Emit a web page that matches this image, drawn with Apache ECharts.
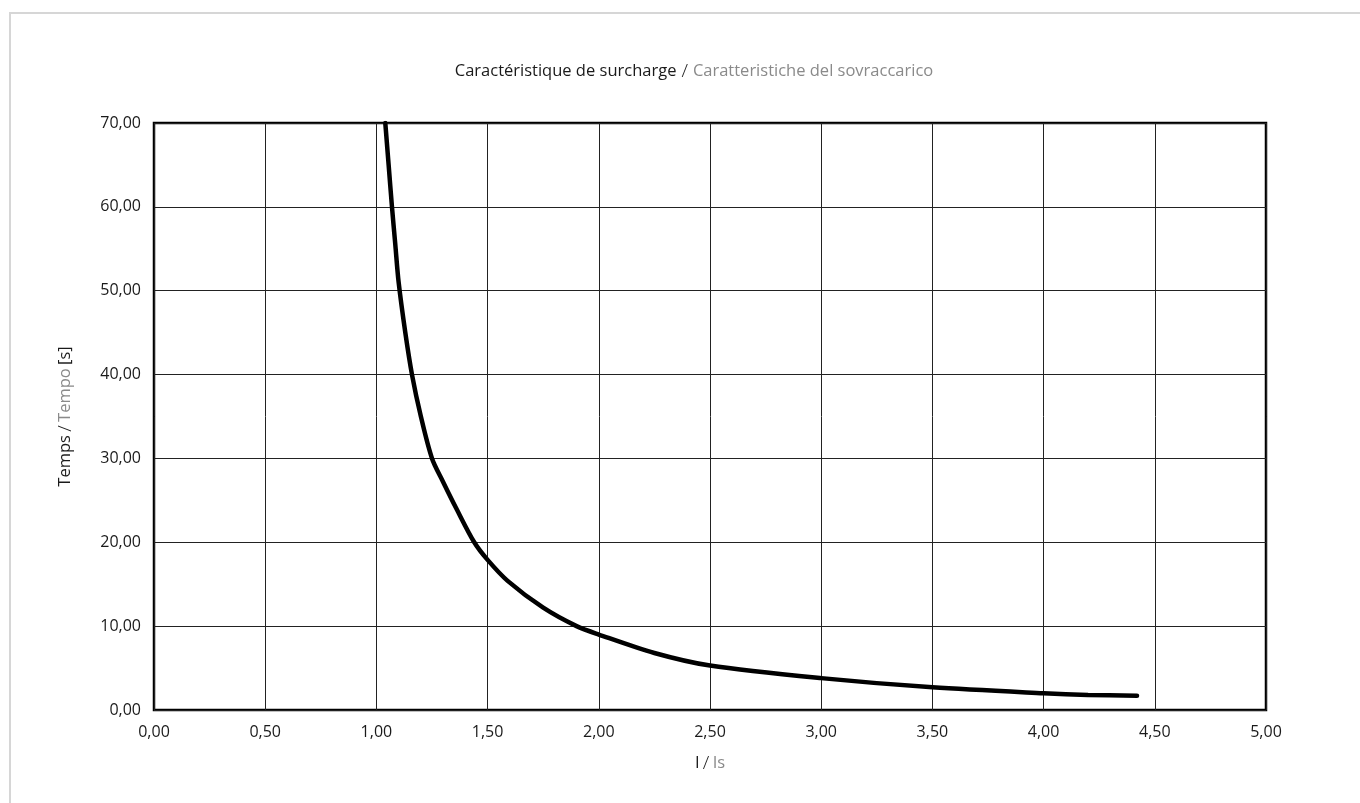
<!DOCTYPE html>
<html>
<head>
<meta charset="utf-8">
<script src="https://cdn.jsdelivr.net/npm/echarts@6/dist/echarts.min.js"></script>
<style>
html,body{margin:0;padding:0;background:#fff;}
#frame{position:absolute;left:9px;top:12px;right:0;bottom:0;border-left:2px solid #d6d6d6;border-top:2px solid #d6d6d6;}
#chart{position:absolute;left:0;top:0;width:1360px;height:803px;}
</style>
</head>
<body>
<div id="frame"></div>
<div id="chart"></div>
<script>
// Current ratio I/Is
const ratioI = [1.04, 1.055, 1.07, 1.085, 1.10, 1.13, 1.16, 1.20, 1.25, 1.30, 1.36, 1.44, 1.50, 1.59, 1.75, 1.90, 2.00, 2.25, 2.50, 3.00, 3.50, 4.00, 4.20, 4.42];
// Trip time [s]
const timeS  = [70.0, 65.0, 60.0, 55.5, 51.0, 45.0, 40.0, 35.0, 30.0, 27.2, 24.0, 20.0, 17.9, 15.4, 12.2, 10.0, 9.0, 6.8, 5.3, 3.8, 2.7, 2.0, 1.8, 1.7];

const xMin = 0, xMax = 5, xStep = 0.5;
const yMin = 0, yMax = 70, yStep = 10;

const fmt = v => v.toFixed(2).replace('.', ',');
const FONT = '"Open Sans", "Noto Sans", sans-serif';
const richStyle = {
  a: {fontFamily: FONT, fontSize: 16.5, fontWeight: 'normal', color: '#1a1a1a'},
  s: {fontFamily: FONT, fontSize: 19, fontWeight: 300, color: '#1a1a1a'},
  b: {fontFamily: FONT, fontSize: 16.5, fontWeight: 'normal', color: '#8a8a8a'}
};

const chart = echarts.init(document.getElementById('chart'), null, {renderer: 'canvas'});
chart.setOption({
  animation: false,
  backgroundColor: 'transparent',
  title: {
    text: '{a|Caractéristique de surcharge} {s|/} {b|Caratteristiche del sovraccarico}',
    left: 689, top: 57, textAlign: 'center',
    textStyle: {fontWeight: 'normal', rich: richStyle}
  },
  grid: {left: 154, top: 123, right: 94, bottom: 93, show: true, borderColor: '#000', borderWidth: 2.5, backgroundColor: 'transparent'},
  xAxis: {
    type: 'value', min: xMin, max: xMax, interval: xStep,
    name: '{a|I} {s|/} {b|Is}', nameLocation: 'middle', nameGap: 44,
    nameTextStyle: {rich: richStyle},
    axisLine: {show: false},
    axisTick: {show: false},
    axisLabel: {formatter: fmt, fontFamily: FONT, fontSize: 16, color: '#1a1a1a', margin: 14},
    splitLine: {show: true, lineStyle: {color: '#222', width: 1}}
  },
  yAxis: {
    type: 'value', min: yMin, max: yMax, interval: yStep,
    name: '{a|Temps} {s|/} {b|Tempo} {a|[s]}', nameLocation: 'middle', nameGap: 79, nameRotate: 90,
    nameTextStyle: {rich: richStyle},
    axisLine: {show: false},
    axisTick: {show: false},
    axisLabel: {formatter: fmt, fontFamily: FONT, fontSize: 16, color: '#1a1a1a', margin: 13},
    splitLine: {show: true, lineStyle: {color: '#222', width: 1}}
  },
  series: [{
    type: 'line',
    data: ratioI.map((x, i) => [x, timeS[i]]),
    smooth: 0.3,
    showSymbol: false,
    lineStyle: {color: '#000', width: 4.5, cap: 'round'},
    z: 5
  }]
});
</script>
</body>
</html>
